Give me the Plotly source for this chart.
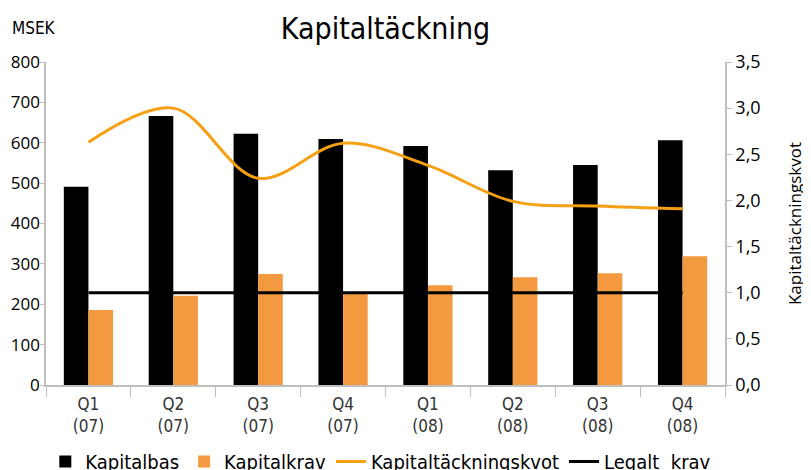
import plotly.graph_objects as go

categories = ["Q1<br>(07)", "Q2<br>(07)", "Q3<br>(07)", "Q4<br>(07)",
              "Q1<br>(08)", "Q2<br>(08)", "Q3<br>(08)", "Q4<br>(08)"]
kapitalbas = [491, 666, 622, 609, 592, 532, 545, 606]
kapitalkrav = [186, 221, 275, 228, 247, 267, 277, 319]
kvot = [2.63, 3.00, 2.24, 2.62, 2.38, 1.99, 1.94, 1.91]
legalt_krav = [1.0] * 8

NARROW = "DejaVu Sans Condensed, Roboto, sans-serif"
REG = "Open Sans, sans-serif"

fig = go.Figure()
fig.add_trace(go.Bar(x=categories, y=kapitalbas, name="Kapitalbas",
                     marker=dict(color="#000000", line=dict(width=0))))
fig.add_trace(go.Bar(x=categories, y=kapitalkrav, name="Kapitalkrav",
                     marker=dict(color="#F39A40", line=dict(width=0))))
fig.add_trace(go.Scatter(x=categories, y=kvot, name="Kapitaltäckningskvot",
                         mode="lines", yaxis="y2",
                         line=dict(color="#F5A012", width=3, shape="spline", smoothing=1)))
fig.add_trace(go.Scatter(x=categories, y=legalt_krav, name="Legalt  krav",
                         mode="lines", yaxis="y2",
                         line=dict(color="#000000", width=3)))

fig.update_layout(
    width=811, height=470,
    margin=dict(l=38, r=94, t=54, b=93, autoexpand=False),
    paper_bgcolor="white", plot_bgcolor="white",
    separators=", ",
    barmode="group", bargap=0.42, bargroupgap=0,
    title=dict(text="Kapitaltäckning", x=0.5, xref="paper", xanchor="center",
               y=0.957, yref="container", yanchor="middle",
               font=dict(family=NARROW, size=30, color="#000000")),
    showlegend=True,
    legend=dict(orientation="h", xref="container", yref="container",
                x=0.046, xanchor="left", y=0.035, yanchor="middle",
                font=dict(family=NARROW, size=20, color="#000000"),
                itemwidth=30, traceorder="normal", bgcolor="rgba(0,0,0,0)"),
    xaxis=dict(type="category", showline=True, linecolor="#BFBFBF", linewidth=1.5,
               ticks="outside", tickson="boundaries", ticklen=10, tickcolor="#BFBFBF",
               tickfont=dict(family=NARROW, size=17, color="#333333"),
               ticklabelstandoff=3,
               showgrid=False, automargin=False),
    yaxis=dict(range=[0, 800], dtick=100, showline=True, linecolor="#BFBFBF", linewidth=1.5,
               ticks="outside", ticklen=4, tickcolor="#BFBFBF",
               tickfont=dict(family=REG, size=17, color="#000000"),
               ticklabelstandoff=-3,
               showgrid=False, zeroline=False, automargin=False),
    yaxis2=dict(range=[0, 3.5], dtick=0.5, tickformat=".1f", overlaying="y", side="right",
                showline=True, linecolor="#BFBFBF", linewidth=1.5,
                ticks="outside", ticklen=5, tickcolor="#BFBFBF",
                tickfont=dict(family=REG, size=18, color="#000000"),
                title=dict(text="Kapitaltäckningskvot", standoff=30,
                           font=dict(family=REG, size=17, color="#000000")),
                showgrid=False, zeroline=False, automargin=False),
    annotations=[dict(text="MSEK", xref="paper", yref="paper",
                      x=-0.053, y=1.105, xanchor="left", yanchor="middle",
                      showarrow=False,
                      font=dict(family=NARROW, size=17, color="#000000"))],
)

fig.write_html("out.html")
